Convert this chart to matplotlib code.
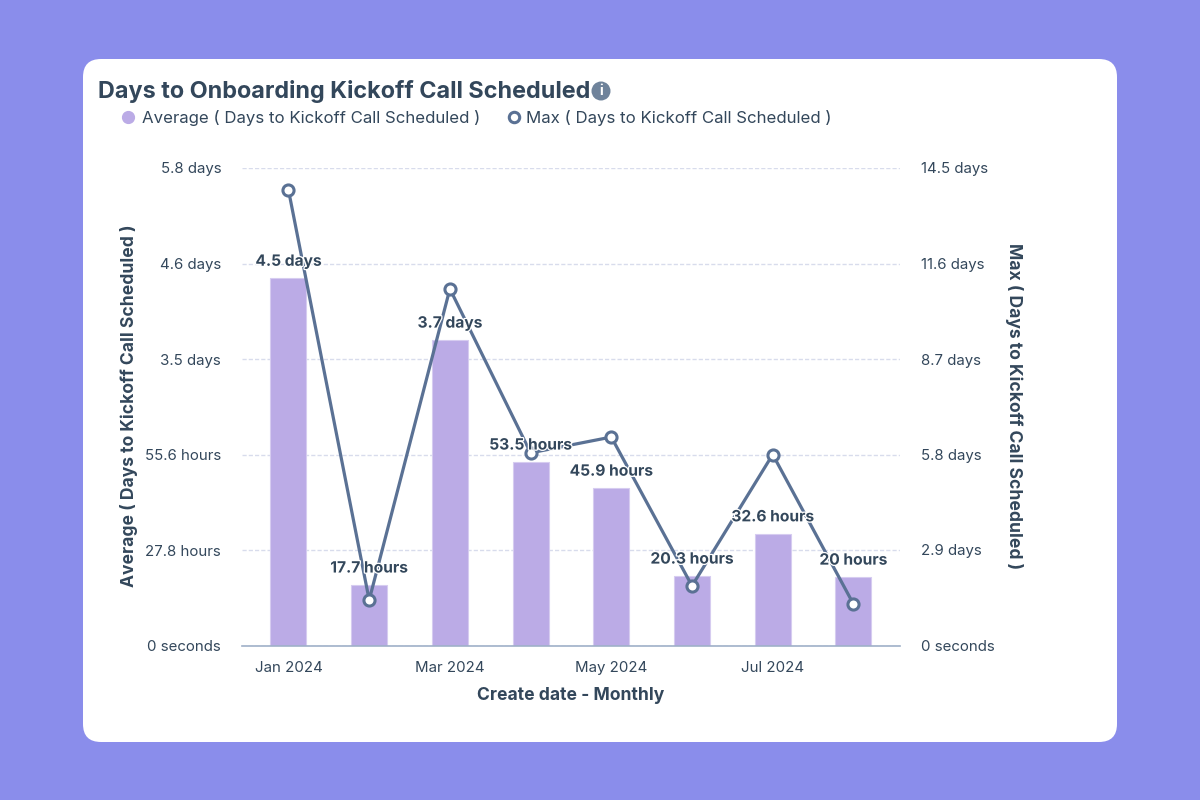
import matplotlib
matplotlib.use('Agg')
import matplotlib.pyplot as plt
import matplotlib.patheffects as pe
from matplotlib.lines import Line2D
from matplotlib.patches import FancyBboxPatch, Circle
import numpy as np

plt.rcParams['font.family'] = ['Inter', 'Lato', 'DejaVu Sans']

months = ['Jan 2024', 'Feb 2024', 'Mar 2024', 'Apr 2024', 'May 2024', 'Jun 2024', 'Jul 2024', 'Aug 2024']
avg_hours = [107.0, 17.7, 89.0, 53.5, 45.9, 20.3, 32.6, 20.0]
avg_labels = ['4.5 days', '17.7 hours', '3.7 days', '53.5 hours', '45.9 hours', '20.3 hours', '32.6 hours', '20 hours']
max_days = [13.83, 1.38, 10.83, 5.85, 6.33, 1.81, 5.8, 1.26]
left_ticks = [0, 27.8, 55.6, 83.4, 111.2, 139.0]
left_labels = ['0 seconds', '27.8 hours', '55.6 hours', '3.5 days', '4.6 days', '5.8 days']
right_ticks = [0, 2.9, 5.8, 8.7, 11.6, 14.5]
right_labels = ['0 seconds', '2.9 days', '5.8 days', '8.7 days', '11.6 days', '14.5 days']

BG = '#8A8DEB'
DARK = '#33475B'
BAR = '#BBABE6'
LINE = '#5A7194'
W, H = 1200, 800

fig = plt.figure(figsize=(12, 8), dpi=100, facecolor=BG)

# white card, in pixels of the figure
card = FancyBboxPatch((83, H - 742), 1034, 683, boxstyle='round,pad=0,rounding_size=18',
                      fc='white', ec='none', transform=None, zorder=-1)
fig.add_artist(card)

ax = fig.add_axes([242 / W, 1 - 645.5 / H, 658 / W, 477.5 / H])
ax.patch.set_alpha(0)
x = np.arange(len(months))
ax.bar(x, avg_hours, width=0.446, color=BAR, edgecolor='#D6CCF0', linewidth=0.8, zorder=2)
ax.set_xlim(-0.576, 7.577)
ax.set_ylim(0, 139)
ax.set_yticks(left_ticks, left_labels)
ax.set_xticks(x[::2], months[::2])
ax.tick_params(axis='both', length=0, labelsize=10.8, labelcolor=DARK)
ax.tick_params(axis='y', pad=15)
ax.tick_params(axis='x', pad=11)
ax.grid(axis='y', color='#D8DCEC', linestyle=(0, (3, 1.5)), linewidth=1, zorder=1)
ax.set_axisbelow(True)
for s in ['top', 'left', 'right']:
    ax.spines[s].set_visible(False)
ax.spines['bottom'].set_color('#9FB0C8')
ax.spines['bottom'].set_linewidth(1.2)

ax2 = ax.twinx()
ax2.plot(x, max_days, color=LINE, linewidth=2.3, marker='o', markersize=8,
         markerfacecolor='white', markeredgecolor=LINE, markeredgewidth=2.2, zorder=3)
ax2.set_ylim(0, 14.5)
ax2.set_yticks(right_ticks, right_labels)
ax2.tick_params(axis='y', length=0, labelsize=10.8, labelcolor=DARK, pad=15)
for s in ax2.spines.values():
    s.set_visible(False)

for xi, h, lab in zip(x, avg_hours, avg_labels):
    ax2.annotate(lab, xy=(xi, h), xycoords=ax.transData, xytext=(0, 12), textcoords='offset points',
                 ha='center', va='center', fontsize=11.2, fontweight='bold', color=DARK, zorder=5,
                 path_effects=[pe.withStroke(linewidth=1.8, foreground='white')])

fig.text(98 / W, 1 - 91.5 / H, 'Days to Onboarding Kickoff Call Scheduled', fontsize=16.85,
         fontweight='bold', color=DARK, ha='left', va='center')
fig.text(571 / W, 1 - 695.5 / H, 'Create date - Monthly', fontsize=12.6, fontweight='bold',
         color=DARK, ha='center', va='center')
fig.text(129.5 / W, 1 - 406 / H, 'Average ( Days to Kickoff Call Scheduled )', fontsize=12.6,
         fontweight='bold', color=DARK, ha='center', va='center', rotation=90)
fig.text(1014 / W, 1 - 406 / H, 'Max ( Days to Kickoff Call Scheduled )', fontsize=12.6,
         fontweight='bold', color=DARK, ha='center', va='center', rotation=270)

# info icon next to the title
fig.add_artist(Circle((601, H - 91), 9.5, fc='#6F839B', ec='none', transform=None))
fig.text(601 / W, 1 - 91 / H, 'i', fontsize=10, fontweight='bold', color='white', ha='center', va='center')

# legend
fig.add_artist(Line2D([128 / W], [1 - 117 / H], marker='o', markersize=8.5, color=BAR, linestyle='none'))
fig.text(142 / W, 1 - 118 / H, 'Average ( Days to Kickoff Call Scheduled )', fontsize=12.1,
         color=DARK, ha='left', va='center')
fig.add_artist(Line2D([514 / W], [1 - 117 / H], marker='o', markersize=7.5, linestyle='none',
                      markerfacecolor='white', markeredgecolor=LINE, markeredgewidth=2.2))
fig.text(526 / W, 1 - 118 / H, 'Max ( Days to Kickoff Call Scheduled )', fontsize=12.15,
         color=DARK, ha='left', va='center')

fig.savefig('out.png', dpi=100, facecolor=fig.get_facecolor())
